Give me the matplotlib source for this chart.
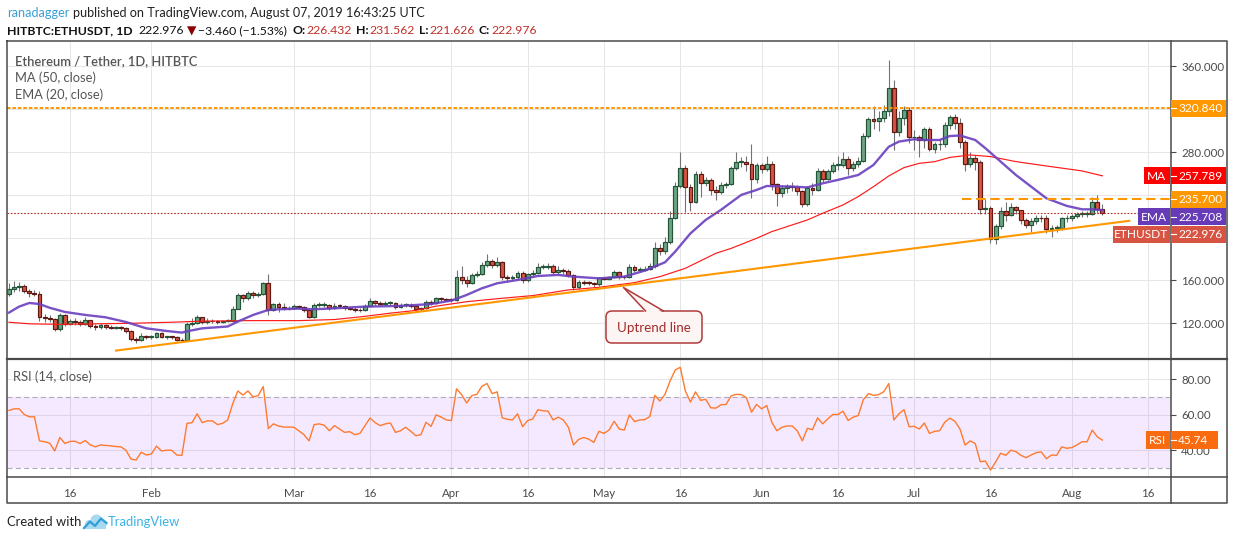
import numpy as np
import pandas as pd
import matplotlib
matplotlib.use('Agg')
import matplotlib.pyplot as plt
import matplotlib.dates as mdates
from matplotlib.patches import Rectangle, FancyBboxPatch, Polygon, Circle

# Set matplotlib style
plt.rcParams.update({
    'font.family': ['Lato', 'DejaVu Sans'],
    'font.size': 9,
    'axes.linewidth': 0,
})

W, H = 1234, 540

# Colours (TradingView classic theme)
UP_FILL, UP_EDGE = '#6ba583', '#225437'
DOWN_FILL, DOWN_EDGE = '#d75442', '#5b1a13'
WICK = '#737375'
GRID = '#e6e6e6'
FRAME = '#4a4a4a'
TEXT = '#4a4a4a'
ORANGE = '#ff9800'
EMA_COLOR = '#6a3fc0'
MA_COLOR = '#ff1a1a'
RSI_COLOR = '#ff7a2e'
RSI_BOX = '#f96b0e'
LAST_COLOR = '#d75442'
RED_TXT = '#c0302a'

# ---------------- data (HITBTC ETH/USDT daily, 2019-01-04 .. 2019-08-07) ----------------
START_DATE = '2019-01-04'

OPEN = [
    147.0, 151.8, 153.6, 155.0, 150.0, 148.0, 147.7, 125.6, 125.0, 123.7,
    114.4, 127.5, 119.4, 121.9, 121.0, 119.4, 122.8, 117.5, 116.3, 118.1,
    116.3, 116.0, 116.0, 115.6, 112.8, 105.7, 104.0, 107.8, 107.0, 107.5,
    111.0, 107.0, 107.5, 107.0, 104.7, 104.0, 119.4, 120.6, 125.6, 121.2,
    122.0, 121.9, 121.2, 122.0, 122.5, 133.7, 146.2, 143.4, 148.0, 146.2,
    147.0, 157.4, 132.5, 137.8, 135.0, 134.0, 134.5, 136.0, 135.0, 132.0,
    125.6, 137.1, 137.5, 137.5, 134.0, 136.5, 136.0, 134.0, 133.5, 132.5,
    132.0, 136.6, 140.5, 138.8, 138.0, 139.0, 139.0, 135.0, 137.0, 137.5,
    136.5, 133.5, 134.0, 140.2, 138.5, 143.4, 142.6, 142.0, 141.6, 163.0,
    160.5, 157.4, 165.0, 166.0, 174.5, 178.6, 174.5, 177.0, 163.6, 162.0,
    163.0, 167.4, 160.0, 165.8, 167.0, 173.0, 173.0, 173.5, 168.3, 169.8,
    168.5, 165.0, 154.3, 158.9, 158.0, 157.5, 156.4, 162.0, 161.5, 163.0,
    167.7, 163.6, 163.0, 173.0, 169.8, 170.0, 171.0, 173.9, 190.0, 188.0,
    195.7, 218.1, 248.3, 264.9, 247.7, 233.7, 259.6, 250.8, 254.0, 244.6,
    243.0, 249.3, 250.0, 264.9, 270.5, 271.0, 268.6, 254.6, 268.0, 264.0,
    268.6, 249.9, 241.5, 246.8, 248.0, 247.7, 243.7, 231.2, 246.8, 244.6,
    262.4, 254.6, 262.0, 268.0, 268.0, 273.6, 264.9, 268.6, 271.7, 295.0,
    310.7, 309.0, 311.6, 318.4, 339.6, 298.5, 311.6, 319.4, 293.8, 294.0,
    291.3, 301.3, 282.6, 287.3, 287.6, 305.4, 312.5, 306.9, 289.8, 268.9,
    274.8, 271.0, 226.5, 228.0, 198.5, 211.0, 225.3, 221.2, 228.4, 225.9,
    216.6, 211.9, 216.0, 218.7, 218.0, 207.9, 209.0, 209.0, 218.0, 218.0,
    220.0, 222.0, 222.0, 222.5, 233.1, 226.432,
]
HIGH = [
    158.0, 159.5, 158.5, 157.0, 152.5, 151.0, 150.0, 128.5, 127.5, 125.0,
    129.5, 128.5, 124.0, 124.5, 123.0, 125.5, 123.5, 119.5, 120.5, 119.5,
    118.0, 117.5, 117.5, 116.5, 113.5, 107.5, 110.5, 109.5, 109.0, 112.0,
    111.5, 108.5, 108.5, 108.0, 106.0, 121.0, 124.5, 127.5, 126.0, 124.5,
    124.0, 123.5, 123.5, 124.0, 136.0, 148.5, 147.0, 150.0, 150.5, 149.0,
    158.5, 166.0, 139.0, 139.5, 138.5, 136.5, 138.0, 137.5, 136.0, 133.0,
    138.5, 140.0, 140.0, 138.0, 138.5, 138.0, 137.0, 135.5, 135.0, 134.0,
    138.0, 144.0, 141.5, 140.5, 140.5, 140.5, 139.5, 138.5, 139.0, 138.5,
    137.0, 135.5, 141.5, 142.0, 145.0, 144.5, 143.5, 143.5, 170.0, 174.0,
    164.0, 167.0, 168.5, 177.0, 185.0, 180.0, 181.5, 178.5, 165.5, 165.0,
    168.5, 169.0, 167.0, 170.0, 176.0, 175.0, 176.0, 175.0, 174.0, 171.5,
    170.5, 166.0, 160.5, 160.0, 159.5, 159.0, 163.5, 163.5, 164.5, 170.0,
    168.5, 165.5, 175.5, 174.5, 172.5, 173.5, 176.5, 196.0, 194.0, 201.0,
    225.0, 252.0, 280.4, 268.0, 250.0, 262.0, 262.5, 257.0, 255.5, 248.0,
    252.0, 252.0, 267.0, 280.0, 275.0, 276.0, 288.0, 270.0, 270.0, 276.0,
    272.0, 251.0, 249.0, 250.5, 252.0, 249.5, 245.0, 248.5, 251.0, 265.0,
    264.0, 264.5, 271.0, 276.0, 280.0, 276.5, 271.5, 275.0, 298.0, 313.0,
    323.0, 318.0, 324.0, 366.0, 347.0, 318.0, 323.0, 322.0, 301.0, 296.0,
    303.0, 303.5, 289.5, 292.0, 308.0, 315.0, 316.0, 312.0, 291.0, 280.0,
    277.0, 272.5, 236.0, 230.0, 213.0, 229.0, 233.0, 232.0, 229.5, 226.0,
    218.0, 218.0, 221.5, 221.0, 221.0, 212.0, 212.0, 219.5, 221.0, 222.0,
    224.0, 224.5, 224.5, 238.0, 239.5, 231.562,
]
LOW = [
    145.5, 149.5, 150.5, 148.5, 145.0, 145.5, 122.5, 121.0, 121.5, 112.5,
    113.0, 117.5, 118.5, 118.0, 117.5, 118.5, 116.0, 114.0, 115.0, 115.0,
    114.5, 114.5, 113.5, 111.0, 103.0, 102.0, 103.0, 105.5, 105.5, 106.5,
    106.0, 105.5, 105.5, 103.5, 102.5, 103.5, 117.5, 119.5, 119.5, 119.5,
    120.0, 119.5, 120.0, 121.0, 122.0, 133.0, 139.5, 142.0, 144.0, 145.0,
    146.5, 128.0, 131.5, 131.0, 132.0, 132.5, 133.5, 133.0, 130.5, 124.5,
    125.0, 135.5, 135.5, 132.5, 133.5, 134.5, 132.0, 132.0, 131.0, 130.5,
    131.5, 136.0, 137.0, 136.5, 137.0, 137.5, 133.5, 134.0, 135.5, 134.5,
    132.0, 131.5, 133.5, 137.5, 138.0, 141.0, 140.5, 139.5, 141.0, 157.0,
    154.0, 156.5, 163.0, 165.0, 172.5, 172.0, 172.5, 160.5, 159.0, 160.5,
    160.5, 158.0, 159.0, 164.0, 166.0, 170.5, 171.0, 166.0, 166.5, 166.5,
    163.0, 151.5, 152.0, 156.0, 155.5, 153.5, 155.0, 160.0, 160.5, 162.5,
    161.5, 161.0, 162.0, 167.5, 168.0, 168.5, 169.5, 172.0, 184.0, 184.5,
    194.0, 217.0, 246.0, 224.0, 225.0, 232.0, 238.0, 248.0, 240.0, 235.0,
    241.0, 246.5, 249.0, 263.0, 266.5, 262.0, 237.0, 251.0, 260.5, 262.0,
    245.0, 230.0, 238.0, 242.0, 244.0, 239.5, 229.0, 229.5, 240.0, 243.5,
    252.0, 253.5, 260.0, 263.0, 266.5, 258.5, 262.0, 266.0, 270.5, 293.5,
    301.5, 300.0, 308.0, 314.0, 282.0, 295.0, 305.0, 288.5, 282.0, 275.0,
    284.0, 281.0, 279.5, 282.0, 285.0, 302.0, 302.0, 284.0, 262.0, 266.0,
    263.0, 222.0, 222.0, 195.0, 194.5, 208.5, 216.0, 220.0, 222.0, 213.0,
    209.0, 205.0, 213.0, 214.5, 204.0, 201.0, 205.5, 207.5, 214.5, 215.5,
    218.0, 219.5, 219.0, 221.0, 223.0, 221.626,
]
CLOSE = [
    151.8, 153.6, 155.0, 150.0, 148.0, 147.7, 125.6, 125.0, 123.7, 114.4,
    127.5, 119.4, 121.9, 121.0, 119.4, 122.8, 117.5, 116.3, 118.1, 116.3,
    116.0, 116.0, 115.6, 112.8, 105.7, 104.0, 107.8, 107.0, 107.5, 111.0,
    107.0, 107.5, 107.0, 104.7, 104.0, 119.4, 120.6, 125.6, 121.2, 122.0,
    121.9, 121.2, 122.0, 122.5, 133.7, 146.2, 143.4, 148.0, 146.2, 147.0,
    157.4, 132.5, 137.8, 135.0, 134.0, 134.5, 136.0, 135.0, 132.0, 125.6,
    137.1, 137.5, 137.5, 134.0, 136.5, 136.0, 134.0, 133.5, 132.5, 132.0,
    136.6, 140.5, 138.8, 138.0, 139.0, 139.0, 135.0, 137.0, 137.5, 136.5,
    133.5, 134.0, 140.2, 138.5, 143.4, 142.6, 142.0, 141.6, 163.0, 160.5,
    157.4, 165.0, 166.0, 174.5, 178.6, 174.5, 177.0, 163.6, 162.0, 163.0,
    167.4, 160.0, 165.8, 167.0, 173.0, 173.0, 173.5, 168.3, 169.8, 168.5,
    165.0, 154.3, 158.9, 158.0, 157.5, 156.4, 162.0, 161.5, 163.0, 167.7,
    163.6, 163.0, 173.0, 169.8, 170.0, 171.0, 173.9, 190.0, 188.0, 195.7,
    218.1, 248.3, 264.9, 247.7, 233.7, 259.6, 250.8, 254.0, 244.6, 243.0,
    249.3, 250.0, 264.9, 270.5, 271.0, 268.6, 254.6, 268.0, 264.0, 268.6,
    249.9, 241.5, 246.8, 248.0, 247.7, 243.7, 231.2, 246.8, 244.6, 262.4,
    254.6, 262.0, 268.0, 268.0, 273.6, 264.9, 268.6, 271.7, 295.0, 310.7,
    309.0, 311.6, 318.4, 339.6, 298.5, 311.6, 319.4, 293.8, 294.0, 291.3,
    301.3, 282.6, 287.3, 287.6, 305.4, 312.5, 306.9, 289.8, 268.9, 274.8,
    271.0, 226.5, 228.0, 198.5, 211.0, 225.3, 221.2, 228.4, 225.9, 216.6,
    211.9, 216.0, 218.7, 218.0, 207.9, 209.0, 209.0, 218.0, 218.0, 220.0,
    222.0, 222.0, 222.5, 233.1, 226.436, 222.976,
]
RSI = [
    62.5, 63.4, 63.4, 60.2, 58.9, 58.9, 45.3, 44.8, 44.0, 39.6,
    47.2, 43.8, 45.0, 45.1, 43.8, 45.5, 43.0, 41.9, 43.0, 42.7,
    42.5, 42.1, 41.9, 40.0, 35.0, 34.5, 38.9, 37.3, 37.9, 42.3,
    39.6, 40.0, 40.0, 37.3, 37.1, 55.2, 55.6, 60.6, 55.6, 56.6,
    56.6, 54.5, 55.2, 57.1, 66.3, 73.5, 71.2, 73.5, 70.1, 70.9,
    76.0, 52.2, 54.9, 53.7, 53.1, 53.1, 53.0, 51.0, 48.8, 45.3,
    54.5, 54.9, 54.1, 51.0, 53.9, 52.0, 50.1, 50.5, 48.8, 49.5,
    53.9, 58.2, 55.6, 53.9, 54.9, 55.4, 50.1, 51.0, 53.0, 50.7,
    48.2, 48.8, 55.8, 53.5, 60.0, 58.7, 57.1, 56.8, 74.7, 71.4,
    66.7, 70.9, 71.6, 76.2, 77.7, 72.0, 73.0, 58.3, 57.5, 57.1,
    60.6, 53.3, 56.8, 57.7, 62.9, 62.3, 62.1, 57.1, 58.7, 57.1,
    53.0, 43.0, 46.1, 47.2, 46.3, 44.4, 50.7, 49.5, 51.4, 56.4,
    52.0, 51.4, 60.0, 56.2, 57.1, 57.3, 59.0, 71.0, 67.8, 71.6,
    79.2, 85.3, 86.9, 73.5, 67.2, 73.0, 68.2, 68.8, 64.0, 63.8,
    65.7, 65.9, 70.7, 71.6, 71.4, 69.7, 61.5, 65.9, 63.4, 65.3,
    55.8, 51.0, 53.0, 53.7, 53.7, 51.0, 45.3, 52.4, 51.6, 58.3,
    54.9, 57.7, 60.2, 60.2, 62.1, 56.8, 58.7, 59.6, 68.6, 72.0,
    71.0, 71.4, 73.0, 77.7, 57.1, 60.6, 62.9, 53.3, 53.5, 52.0,
    55.4, 49.5, 50.7, 51.0, 55.8, 58.1, 56.4, 52.0, 42.9, 45.3,
    43.8, 33.5, 33.9, 28.8, 33.3, 38.3, 37.1, 40.0, 39.2, 37.1,
    35.8, 37.3, 38.7, 39.0, 35.2, 37.3, 37.1, 41.9, 41.1, 41.5,
    43.0, 44.8, 44.8, 51.4, 47.6, 45.74,
]

# EMA(20) and MA(50) (day index from START_DATE, value)
EMA_DAY = [0, 2, 4, 6, 8, 11, 15, 19, 23, 27, 31, 34, 35, 38, 43, 45, 48, 51, 53, 57,
           60, 64, 70, 77, 83, 87, 90, 93, 96, 100, 104, 108, 111, 116, 121, 125, 129, 131, 134, 137,
           140, 144, 147, 149, 154, 157, 160, 163, 167, 170, 173, 175, 178, 180, 183, 185, 187, 190, 192, 195,
           198, 201, 204, 208, 211, 213, 215]
EMA_VAL = [130.0, 135.6, 139.0, 138.0, 134.5, 130.6, 127.8, 125.6, 121.2, 115.3, 112.8, 111.3, 112.5, 115.3, 117.0,
           121.6, 127.8, 132.5, 133.1, 133.7, 133.1, 134.0, 135.6, 136.2, 138.0, 141.2, 146.5, 152.7, 157.4, 160.5,
           164.2, 165.2, 163.6, 162.0, 163.6, 169.2, 177.0, 187.0, 204.0, 216.6, 226.0, 240.0, 244.6, 248.3, 247.7,
           247.0, 250.8, 254.0, 258.6, 268.0, 285.0, 289.8, 292.0, 291.3, 291.3, 295.0, 295.5, 291.3, 283.6, 271.1,
           258.6, 247.7, 236.8, 229.7, 226.5, 226.5, 225.708]
MA_DAY = [0, 4, 10, 17, 24, 32, 38, 47, 57, 64, 70, 75, 80, 84, 90, 97, 103, 110, 116, 123,
          128, 133, 139, 142, 147, 150, 154, 157, 160, 164, 167, 170, 173, 176, 179, 182, 185, 189, 193, 198,
          204, 211, 215]
MA_VAL = [121.0, 119.5, 119.0, 119.5, 120.0, 121.0, 122.0, 122.5, 122.5, 123.5, 126.5, 129.5, 132.0, 136.0, 140.2,
          143.4, 145.9, 151.2, 153.6, 158.0, 163.6, 171.4, 185.4, 190.0, 199.4, 205.7, 211.9, 216.6, 222.8, 230.6,
          238.4, 247.7, 257.7, 265.5, 269.5, 271.0, 275.0, 277.3, 275.8, 271.1, 267.0, 262.4, 257.789]

# drawings
TREND_DAY = [20.85, 220.5]
TREND_PRICE = [94.4, 215.9]
RESIST_HIGH = 320.840
RESIST_LOW = 235.700
RESIST_LOW_FROM_DAY = 187.4

# axis ticks (labels hidden behind the price boxes are left blank)
PRICE_TICKS = [120, 160, 200, 240, 280, 320, 360]
PRICE_TICK_LABELS = ['120.000', '160.000', '', '', '280.000', '', '360.000']
RSI_TICKS = [40, 60, 80]
RSI_TICK_LABELS = ['40.00', '60.00', '80.00']
TICK_DATES = ['2019-01-16', '2019-02-01', '2019-03-01', '2019-03-16', '2019-04-01', '2019-04-16',
              '2019-05-01', '2019-05-16', '2019-06-01', '2019-06-16', '2019-07-01', '2019-07-16',
              '2019-08-01', '2019-08-16']
TICK_LABELS = ['16', 'Feb', 'Mar', '16', 'Apr', '16', 'May', '16', 'Jun', '16', 'Jul', '16', 'Aug', '16']

# ---------------- figure ----------------
dates = pd.date_range(START_DATE, periods=len(CLOSE), freq='D')
x = mdates.date2num(dates)
o, h, l, c = (np.array(v) for v in (OPEN, HIGH, LOW, CLOSE))
tick_x = mdates.date2num(pd.to_datetime(TICK_DATES))

fig = plt.figure(figsize=(W / 100, H / 100), dpi=100)
fig.patch.set_facecolor('white')


def frac(x0, y0, x1, y1):
    return [x0 / W, 1 - y1 / H, (x1 - x0) / W, (y1 - y0) / H]


ax = fig.add_axes(frac(7, 41, 1170, 358.5))
ax_rsi = fig.add_axes(frac(7, 360, 1170, 476.6))

for a in (ax, ax_rsi):
    a.set_xlim(x[0] - 0.39, x[0] + 228.3)
    a.set_xticks(tick_x)
    a.grid(True, color=GRID, lw=0.75, zorder=0)
    a.set_axisbelow(True)
    a.yaxis.tick_right()
    for s in a.spines.values():
        s.set_visible(False)

# price pane
ax.set_ylim(87.1, 383.8)
ax.set_yticks(PRICE_TICKS)
ax.set_yticklabels(PRICE_TICK_LABELS)
ax.tick_params(axis='x', length=0, labelbottom=False)
ax.tick_params(axis='y', length=4, width=0.8, color=FRAME, pad=4, labelsize=8.3, labelcolor=TEXT)

up = c >= o
body_lo = np.minimum(o, c)
body_h = np.maximum(np.abs(c - o), 0.7)
ax.vlines(x, l, h, color=WICK, lw=0.8, zorder=2)
ax.bar(x[up], body_h[up], bottom=body_lo[up], width=0.76, color=UP_FILL,
       edgecolor=UP_EDGE, lw=0.85, zorder=3)
ax.bar(x[~up], body_h[~up], bottom=body_lo[~up], width=0.76, color=DOWN_FILL,
       edgecolor=DOWN_EDGE, lw=0.85, zorder=3)

ax.plot(x[MA_DAY], MA_VAL, color=MA_COLOR, lw=0.85, zorder=4)
ax.plot(x[EMA_DAY], EMA_VAL, color=EMA_COLOR, lw=1.7, alpha=0.9, zorder=5)
ax.plot(x[0] + np.array(TREND_DAY), TREND_PRICE, color=ORANGE, lw=1.5, zorder=6,
        solid_capstyle='butt')
ax.axhline(RESIST_HIGH, color=ORANGE, lw=1.4, dashes=(1.8, 1.0), zorder=6)
ax.plot([x[0] + RESIST_LOW_FROM_DAY, x[0] + 228.3], [RESIST_LOW, RESIST_LOW],
        color=ORANGE, lw=1.5, dashes=(4.5, 2.3), zorder=6)
ax.axhline(CLOSE[-1], color='#b02a2a', lw=0.8, dashes=(1.5, 1.5), zorder=6)

# RSI pane
ax_rsi.set_ylim(25.1, 91.0)
ax_rsi.set_yticks(RSI_TICKS)
ax_rsi.set_yticklabels(RSI_TICK_LABELS)
ax_rsi.tick_params(axis='y', length=4, width=0.8, color=FRAME, pad=4, labelsize=8.3, labelcolor=TEXT)
ax_rsi.set_xticklabels(TICK_LABELS)
ax_rsi.tick_params(axis='x', length=0, pad=8, labelsize=8.3, labelcolor=TEXT)
ax_rsi.axhspan(30, 70, color='#9915ff', alpha=0.09, lw=0, zorder=1)
for lvl in (30, 70):
    ax_rsi.axhline(lvl, color='#b0a8b8', lw=0.8, dashes=(4.5, 3.0), zorder=2)
ax_rsi.plot(x, RSI, color=RSI_COLOR, lw=1.0, zorder=3)

# ---------------- overlay in pixel coordinates ----------------
ov = fig.add_axes([0, 0, 1, 1], zorder=10)
ov.set_xlim(0, W)
ov.set_ylim(H, 0)
ov.axis('off')
ov.patch.set_alpha(0)
renderer = fig.canvas.get_renderer()

# frame
ov.plot([7, 1226.5, 1226.5, 7, 7], [41, 41, 503, 503, 41], color=FRAME, lw=1.1)
ov.plot([7, 1226.5], [359.3, 359.3], color=FRAME, lw=1.6)
ov.plot([7, 1226.5], [476.6, 476.6], color=FRAME, lw=1.1)
ov.plot([1170.5, 1170.5], [41, 503], color=FRAME, lw=1.1)


def px_y(axis, v):
    return H - axis.transData.transform((x[0], v))[1]


def value_box(yc, text, color, x1=1226, name=None, name_x0=None):
    ov.add_patch(Rectangle((1171.2, yc - 8.6), x1 - 1171.2, 17.2, fc=color, ec='none', zorder=20))
    ov.plot([1171.2, 1175.5], [yc, yc], color='white', lw=0.8, zorder=21)
    ov.text(1178, yc + 0.3, text, color='white', fontsize=8.6, ha='left', va='center', zorder=22)
    if name:
        ov.add_patch(Rectangle((name_x0, yc - 8.6), 1169.8 - name_x0, 17.2, fc=color, ec='none', zorder=20))
        ov.text((name_x0 + 1169.8) / 2, yc + 0.3, name, color='white', fontsize=8.6,
                ha='center', va='center', zorder=22)


labels = [
    (RESIST_HIGH, f'{RESIST_HIGH:.3f}', ORANGE, None, None),
    (MA_VAL[-1], f'{MA_VAL[-1]:.3f}', '#ff0000', 'MA', 1143.5),
    (RESIST_LOW, f'{RESIST_LOW:.3f}', ORANGE, None, None),
    (EMA_VAL[-1], f'{EMA_VAL[-1]:.3f}', '#673ab7', 'EMA', 1137.5),
    (CLOSE[-1], f'{CLOSE[-1]:.3f}', LAST_COLOR, 'ETHUSDT', 1112.5),
]
prev = -100
for val, txt, col, name, nx in labels:
    yc = max(px_y(ax, val), prev + 17.4)
    value_box(yc, txt, col, name=name, name_x0=nx)
    prev = yc

yr = px_y(ax_rsi, RSI[-1])
value_box(yr, f'{RSI[-1]:.2f}', RSI_BOX, x1=1217.5, name='RSI', name_x0=1145.5)


def runs(x0, y, parts, size):
    xp = x0
    for s, col, weight, gap in parts:
        t = ov.text(xp, y, s, color=col, fontsize=size, fontweight=weight, ha='left', va='center')
        xp += t.get_window_extent(renderer).width + gap


chg = CLOSE[-1] - CLOSE[-2]
pct = chg / CLOSE[-2] * 100
runs(7, 13, [('ranadagger', '#3a9fd8', 'normal', 3.5),
             ('published on TradingView.com, August 07, 2019 16:43:25 UTC', '#222222', 'normal', 0)], 9.1)
runs(7, 31, [('HITBTC:ETHUSDT, 1D', '#111111', 'bold', 6),
             (f'{CLOSE[-1]:.3f}', '#111111', 'normal', 3),
             ('\u25bc', '#8b0000', 'normal', 2),
             (f'\u2212{abs(chg):.3f} (\u2212{abs(pct):.2f}%)', '#111111', 'normal', 5),
             ('O:', '#111111', 'bold', 1), (f'{OPEN[-1]:.3f}', RED_TXT, 'normal', 4),
             ('H:', '#111111', 'bold', 1), (f'{HIGH[-1]:.3f}', RED_TXT, 'normal', 4),
             ('L:', '#111111', 'bold', 1), (f'{LOW[-1]:.3f}', RED_TXT, 'normal', 4),
             ('C:', '#111111', 'bold', 1), (f'{CLOSE[-1]:.3f}', RED_TXT, 'normal', 0)], 8.8)

ov.text(15, 61, 'Ethereum / Tether, 1D, HITBTC', color='#555555', fontsize=9.3,
        fontweight='semibold', va='center')
ov.text(15, 78, 'MA (50, close)', color='#555555', fontsize=9.3, va='center')
ov.text(15, 95, 'EMA (20, close)', color='#555555', fontsize=9.3, va='center')
ov.text(13, 377, 'RSI (14, close)', color='#555555', fontsize=9.3, va='center')

# callout
CALL_EDGE, CALL_FILL = '#b03a3a', '#fdf4f4'
ov.add_patch(FancyBboxPatch((606, 311), 96, 32, boxstyle='round,pad=0,rounding_size=6',
                            fc=CALL_FILL, ec=CALL_EDGE, lw=1.1, zorder=5))
ov.add_patch(Polygon([(623.5, 287.5), (645.5, 313), (663.5, 313)], closed=True,
                     fc=CALL_FILL, ec='none', zorder=6))
ov.plot([645.5, 623.5, 663.5], [311, 287.5, 311], color=CALL_EDGE, lw=1.1, zorder=7)
ov.text(654, 327.5, 'Uptrend line', color='#a52a2a', fontsize=9.6, ha='center', va='center', zorder=8)

# footer
ov.text(7, 522, 'Created with', color='#222222', fontsize=9.4, va='center')
for cx, cy, r in [(89.5, 524.5, 4.5), (96.5, 520.5, 6.0), (102.5, 524.5, 4.2)]:
    ov.add_patch(Circle((cx, cy), r, fc='#a8d9f1', ec='none'))
ov.add_patch(Rectangle((85, 524), 21, 5, fc='#a8d9f1', ec='none'))
ov.plot([84, 90, 95, 101, 106.5], [528, 521.5, 526, 518.5, 523], color='#2f9fd8', lw=1.6)
ov.text(108, 522, 'TradingView', color='#3bb3e4', fontsize=9.4, va='center')

fig.savefig('out.png', dpi=100)
